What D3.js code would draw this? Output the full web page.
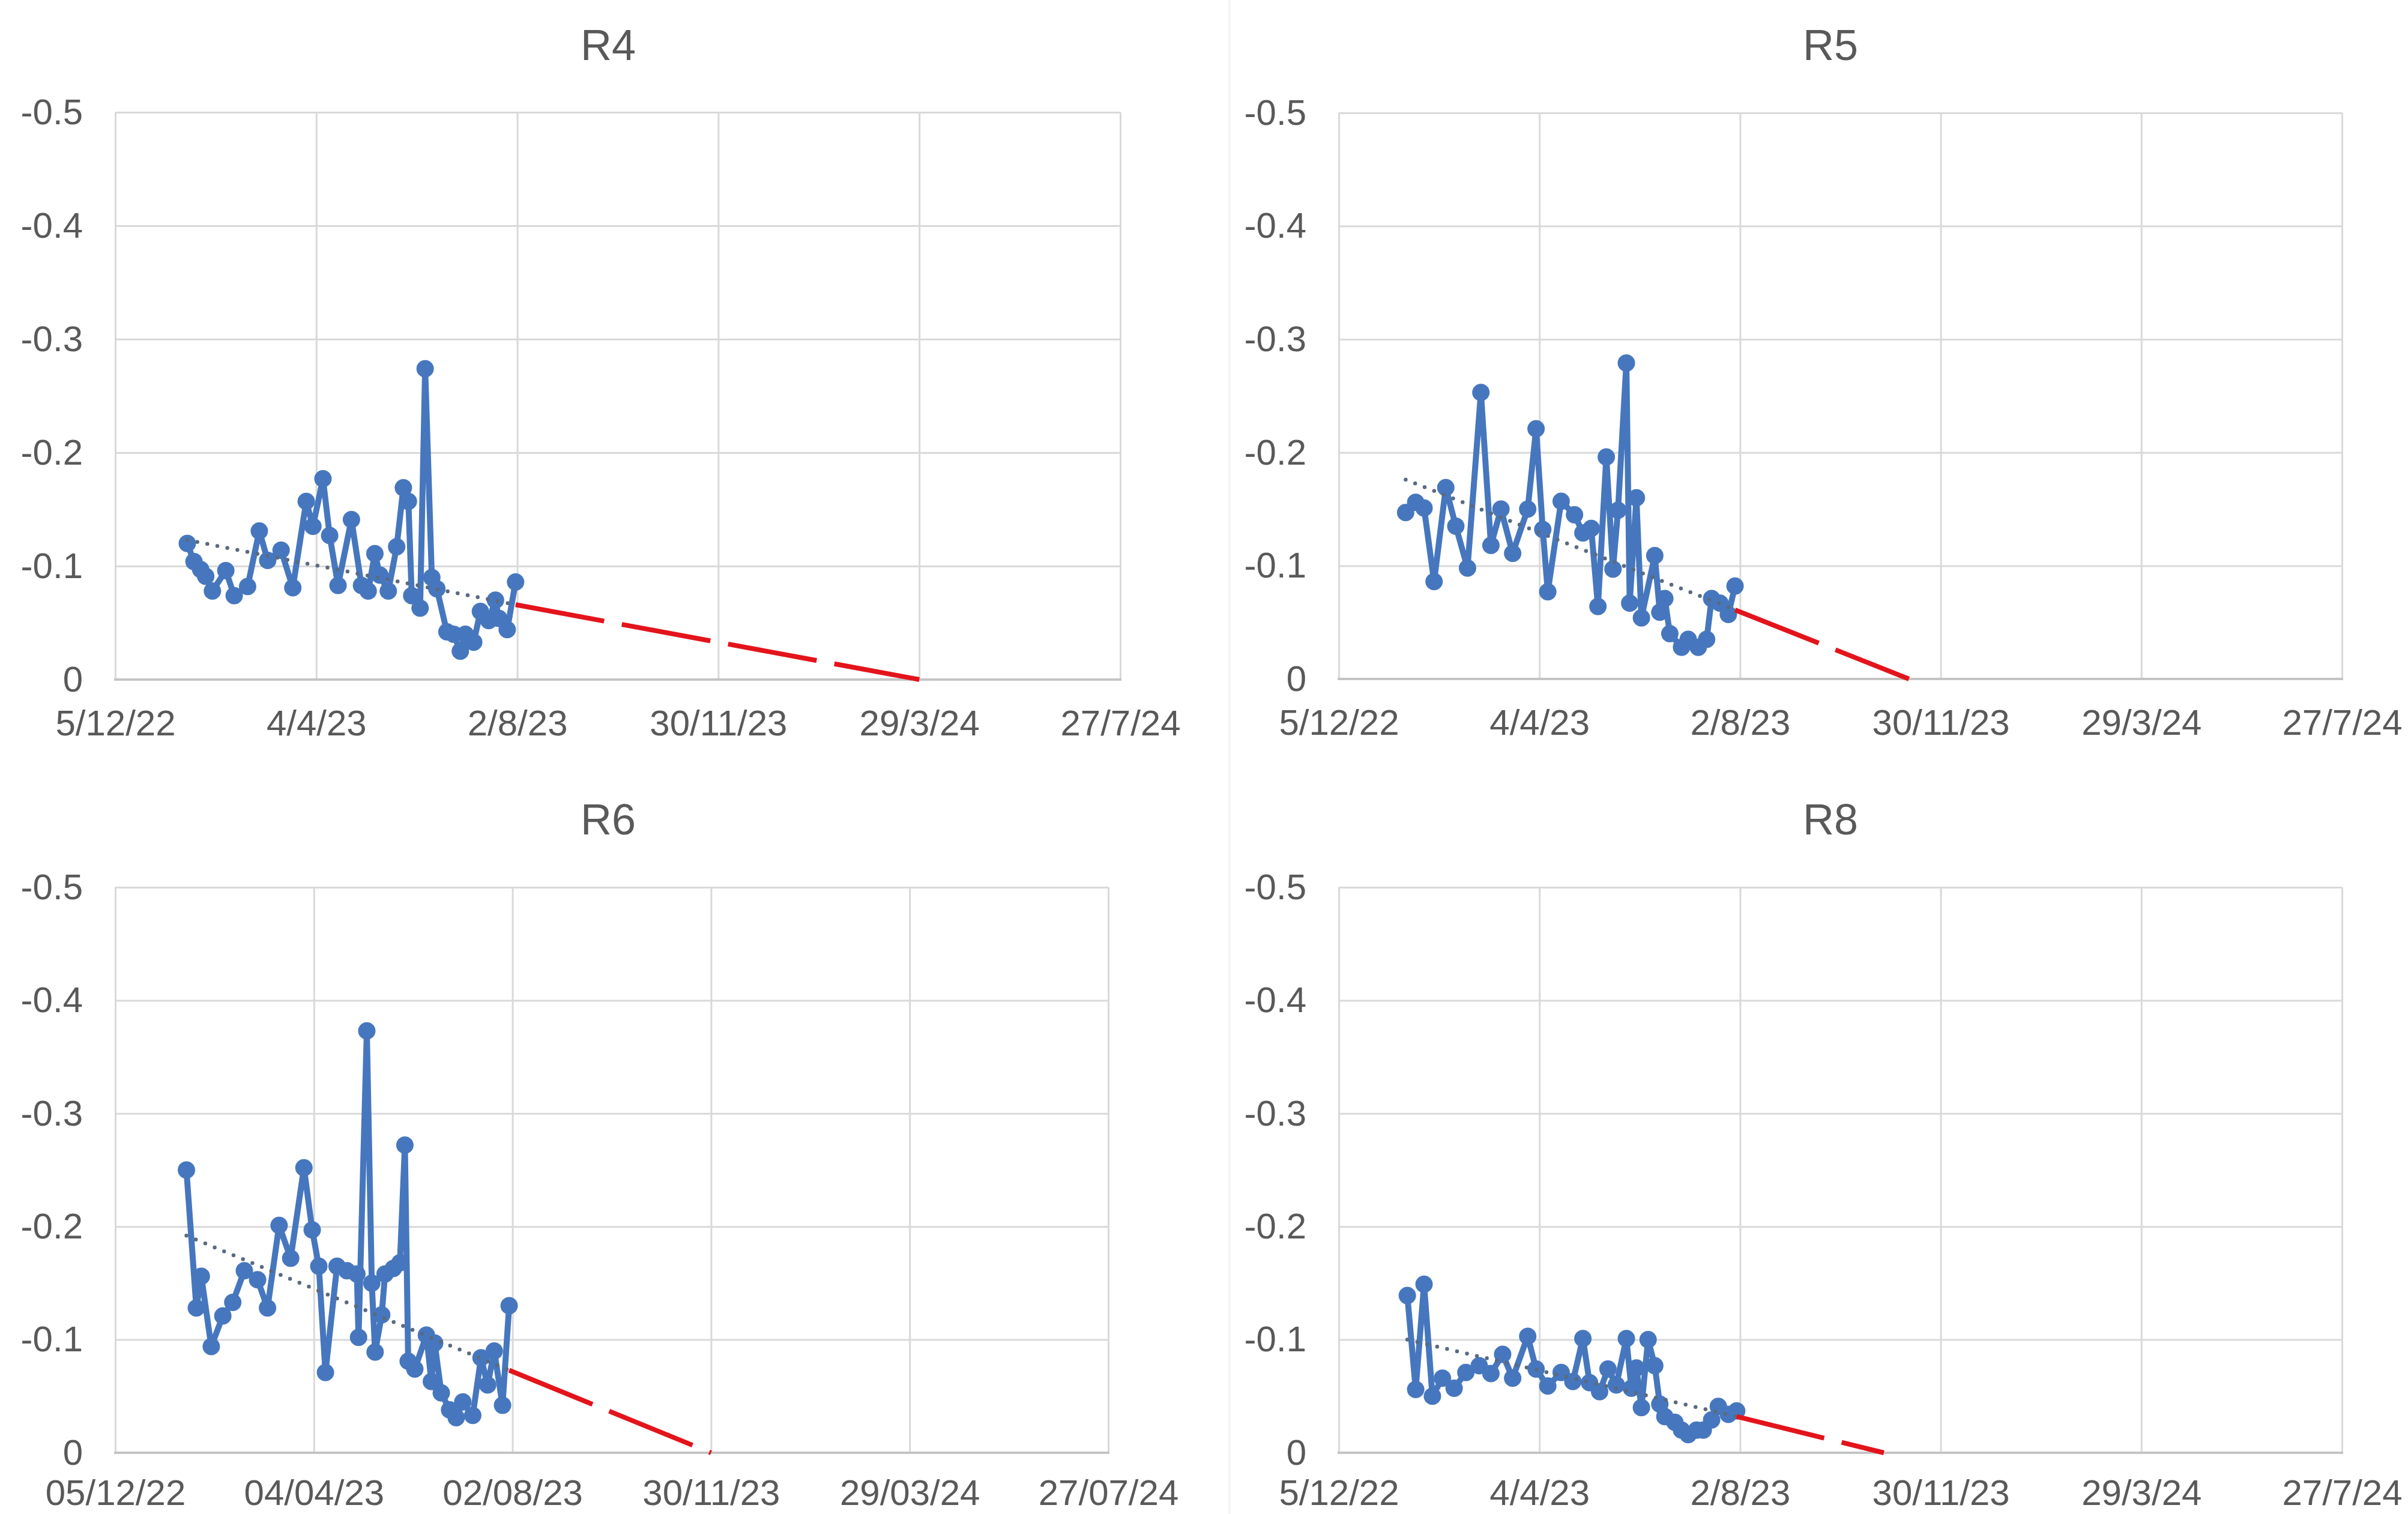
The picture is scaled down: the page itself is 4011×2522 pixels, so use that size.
<!DOCTYPE html>
<html><head><meta charset="utf-8">
<script src="https://cdn.jsdelivr.net/npm/d3@7"></script>
<style>body{margin:0;background:#fff;} svg{display:block;}</style>
</head><body>
<script>
// ---------- DATA ----------
const xTickDates = ["2022-12-05","2023-04-04","2023-08-02","2023-11-30","2024-03-29","2024-07-27"];
const xTickLabelsShort = ["5/12/22","4/4/23","2/8/23","30/11/23","29/3/24","27/7/24"];
const xTickLabelsLong = ["05/12/22","04/04/23","02/08/23","30/11/23","29/03/24","27/07/24"];
const yTicks = [0,-0.1,-0.2,-0.3,-0.4,-0.5];
const yTickLabels = ["0","-0.1","-0.2","-0.3","-0.4","-0.5"];

const r4Dates = ["2023-01-17","2023-01-21","2023-01-25","2023-01-28","2023-02-01","2023-02-09","2023-02-14","2023-02-22","2023-03-01","2023-03-06","2023-03-14","2023-03-21","2023-03-29","2023-04-02","2023-04-08","2023-04-12","2023-04-17","2023-04-25","2023-05-01","2023-05-05","2023-05-09","2023-05-12","2023-05-17","2023-05-22","2023-05-26","2023-05-29","2023-05-31","2023-06-05","2023-06-08","2023-06-12","2023-06-15","2023-06-21","2023-06-25","2023-06-29","2023-07-02","2023-07-07","2023-07-11","2023-07-16","2023-07-20","2023-07-22","2023-07-27","2023-08-01"];
const r4Values = [-0.120,-0.104,-0.097,-0.091,-0.078,-0.096,-0.074,-0.082,-0.131,-0.105,-0.114,-0.081,-0.157,-0.135,-0.177,-0.127,-0.083,-0.141,-0.083,-0.078,-0.111,-0.092,-0.078,-0.117,-0.169,-0.157,-0.074,-0.063,-0.274,-0.090,-0.080,-0.042,-0.040,-0.025,-0.040,-0.033,-0.060,-0.052,-0.070,-0.054,-0.044,-0.086];
const r4TrendDates = ["2023-01-17","2023-08-01"];
const r4TrendValues = [-0.123,-0.066];
const r4ZeroDate = "2024-03-29";

const r5Dates = ["2023-01-14","2023-01-20","2023-01-25","2023-01-31","2023-02-07","2023-02-13","2023-02-20","2023-02-28","2023-03-06","2023-03-12","2023-03-19","2023-03-28","2023-04-02","2023-04-06","2023-04-09","2023-04-17","2023-04-25","2023-04-30","2023-05-05","2023-05-09","2023-05-14","2023-05-18","2023-05-21","2023-05-26","2023-05-28","2023-06-01","2023-06-04","2023-06-12","2023-06-15","2023-06-18","2023-06-21","2023-06-28","2023-07-02","2023-07-08","2023-07-13","2023-07-16","2023-07-21","2023-07-26","2023-07-30"];
const r5Values = [-0.147,-0.156,-0.151,-0.086,-0.169,-0.135,-0.098,-0.253,-0.118,-0.150,-0.111,-0.150,-0.221,-0.132,-0.077,-0.157,-0.145,-0.129,-0.133,-0.064,-0.196,-0.097,-0.149,-0.279,-0.067,-0.160,-0.054,-0.109,-0.059,-0.071,-0.040,-0.028,-0.035,-0.028,-0.035,-0.071,-0.067,-0.057,-0.082];
const r5TrendDates = ["2023-01-14","2023-07-30"];
const r5TrendValues = [-0.176,-0.061];
const r5ZeroDate = "2023-11-11";

const r6Dates = ["2023-01-17","2023-01-23","2023-01-26","2023-02-01","2023-02-08","2023-02-14","2023-02-21","2023-03-01","2023-03-07","2023-03-14","2023-03-21","2023-03-29","2023-04-03","2023-04-07","2023-04-11","2023-04-18","2023-04-24","2023-04-30","2023-05-01","2023-05-06","2023-05-09","2023-05-11","2023-05-15","2023-05-17","2023-05-22","2023-05-26","2023-05-29","2023-05-31","2023-06-04","2023-06-11","2023-06-14","2023-06-16","2023-06-20","2023-06-25","2023-06-29","2023-07-03","2023-07-09","2023-07-14","2023-07-18","2023-07-22","2023-07-27","2023-07-31"];
const r6Values = [-0.250,-0.128,-0.156,-0.094,-0.121,-0.133,-0.161,-0.153,-0.128,-0.201,-0.172,-0.252,-0.197,-0.165,-0.071,-0.165,-0.161,-0.158,-0.102,-0.373,-0.150,-0.089,-0.122,-0.158,-0.163,-0.168,-0.272,-0.081,-0.074,-0.104,-0.063,-0.097,-0.053,-0.038,-0.031,-0.045,-0.033,-0.084,-0.060,-0.090,-0.042,-0.130];
const r6TrendDates = ["2023-01-17","2023-07-31"];
const r6TrendValues = [-0.192,-0.073];
const r6ZeroDate = "2023-11-30";

const r8Dates = ["2023-01-15","2023-01-20","2023-01-25","2023-01-30","2023-02-05","2023-02-12","2023-02-19","2023-02-27","2023-03-06","2023-03-13","2023-03-19","2023-03-28","2023-04-02","2023-04-09","2023-04-17","2023-04-24","2023-04-30","2023-05-04","2023-05-10","2023-05-15","2023-05-20","2023-05-26","2023-05-29","2023-06-01","2023-06-04","2023-06-08","2023-06-12","2023-06-15","2023-06-18","2023-06-24","2023-06-28","2023-07-02","2023-07-07","2023-07-11","2023-07-16","2023-07-20","2023-07-26","2023-07-31"];
const r8Values = [-0.139,-0.056,-0.149,-0.050,-0.066,-0.057,-0.071,-0.077,-0.070,-0.087,-0.066,-0.103,-0.074,-0.059,-0.071,-0.063,-0.101,-0.062,-0.054,-0.074,-0.060,-0.101,-0.057,-0.075,-0.040,-0.100,-0.077,-0.043,-0.032,-0.027,-0.020,-0.016,-0.020,-0.020,-0.029,-0.041,-0.034,-0.037];
const r8TrendDates = ["2023-01-15","2023-07-31"];
const r8TrendValues = [-0.100,-0.032];
const r8ZeroDate = "2023-10-27";

// ---------- LAYOUT ----------
const W = 4011, H = 2522;
const FONT = "'Liberation Sans', Arial, Helvetica, sans-serif";
const TXT = "#595959";
const BLUE = "#4677BE";
const RED = "#E3141B";
const GRID = "#d9d9d9";

const panels = [
  {name:"R4", left:192, right:1866, top:187, bottom:1132, titleX:1013, titleY:100, labels:xTickLabelsShort, pad:50,
   dates:r4Dates, values:r4Values, tDates:r4TrendDates, tValues:r4TrendValues, zero:r4ZeroDate},
  {name:"R5", left:2230, right:3901, top:188, bottom:1131, titleX:3049, titleY:100, labels:xTickLabelsShort, pad:50,
   dates:r5Dates, values:r5Values, tDates:r5TrendDates, tValues:r5TrendValues, zero:r5ZeroDate},
  {name:"R6", left:192, right:1846, top:1478, bottom:2420, titleX:1013, titleY:1390, labels:xTickLabelsLong, pad:44,
   dates:r6Dates, values:r6Values, tDates:r6TrendDates, tValues:r6TrendValues, zero:r6ZeroDate},
  {name:"R8", left:2230, right:3901, top:1478, bottom:2420, titleX:3049, titleY:1390, labels:xTickLabelsShort, pad:44,
   dates:r8Dates, values:r8Values, tDates:r8TrendDates, tValues:r8TrendValues, zero:r8ZeroDate}
];

const parse = d3.utcParse("%Y-%m-%d");
const svg = d3.select("body").append("svg").attr("width", W).attr("height", H)
  .style("font-family", FONT);
svg.append("rect").attr("width", W).attr("height", H).attr("fill", "#fff");

// faint chart-area separator
svg.append("line").attr("x1",2048).attr("x2",2048).attr("y1",0).attr("y2",H)
  .attr("stroke","#f2f2f2").attr("stroke-width",3);

panels.forEach(p => {
  const g = svg.append("g");
  const x = d3.scaleUtc().domain([parse(xTickDates[0]), parse(xTickDates[xTickDates.length-1])]).range([p.left, p.right]);
  const y = d3.scaleLinear().domain([0, -0.5]).range([p.bottom, p.top]);

  // title
  g.append("text").attr("x", p.titleX).attr("y", p.titleY).attr("text-anchor","middle")
    .attr("font-size", 72).attr("fill", TXT).text(p.name);

  // y axis with gridlines
  const yAxis = d3.axisLeft(y).tickValues(yTicks).tickFormat((d,i)=>yTickLabels[i])
    .tickSize(-(p.right - p.left)).tickPadding(54);
  const yg = g.append("g").attr("transform", `translate(${p.left},0)`).call(yAxis);
  yg.select(".domain").remove();
  yg.selectAll(".tick line").attr("stroke", GRID).attr("stroke-width", 3);
  yg.selectAll(".tick text").attr("font-size", 60).attr("fill", TXT).attr("font-family", FONT);

  // x axis with vertical gridlines
  const tickD = xTickDates.map(parse);
  const xAxis = d3.axisBottom(x).tickValues(tickD).tickFormat((d,i)=>p.labels[i])
    .tickSize(-(p.bottom - p.top)).tickPadding(p.pad);
  const xg = g.append("g").attr("transform", `translate(0,${p.bottom})`).call(xAxis);
  xg.select(".domain").remove();
  xg.selectAll(".tick line").attr("stroke", GRID).attr("stroke-width", 3);
  xg.selectAll(".tick text").attr("font-size", 60).attr("fill", TXT).attr("font-family", FONT);

  // baseline (value axis at 0)
  g.append("line").attr("x1", p.left - 2).attr("x2", p.right + 2)
    .attr("y1", y(0)).attr("y2", y(0)).attr("stroke", "#c4c4c4").attr("stroke-width", 4);

  const pts = p.dates.map((d,i)=>({date: parse(d), v: p.values[i]}));
  const line = d3.line().x(d=>x(d.date)).y(d=>y(d.v));

  // series line
  g.append("path").datum(pts).attr("d", line).attr("fill","none")
    .attr("stroke", BLUE).attr("stroke-width", 10).attr("stroke-linejoin","round");
  // markers
  g.selectAll("circle.m").data(pts).join("circle").attr("class","m")
    .attr("cx", d=>x(d.date)).attr("cy", d=>y(d.v)).attr("r", 14.5).attr("fill", BLUE);

  // linear trend (dotted)
  const tr = p.tDates.map((d,i)=>({date: parse(d), v: p.tValues[i]}));
  g.append("path").datum(tr).attr("d", line).attr("fill","none")
    .attr("stroke", "#5a6a80").attr("stroke-width", 6.5).attr("stroke-linecap","round")
    .attr("stroke-dasharray", "0,17");

  // projection to zero (red long dash)
  const proj = [tr[tr.length-1], {date: parse(p.zero), v: 0}];
  g.append("path").datum(proj).attr("d", line).attr("fill","none")
    .attr("stroke", RED).attr("stroke-width", 8).attr("stroke-dasharray", "150,30");
});
</script>
</body></html>
